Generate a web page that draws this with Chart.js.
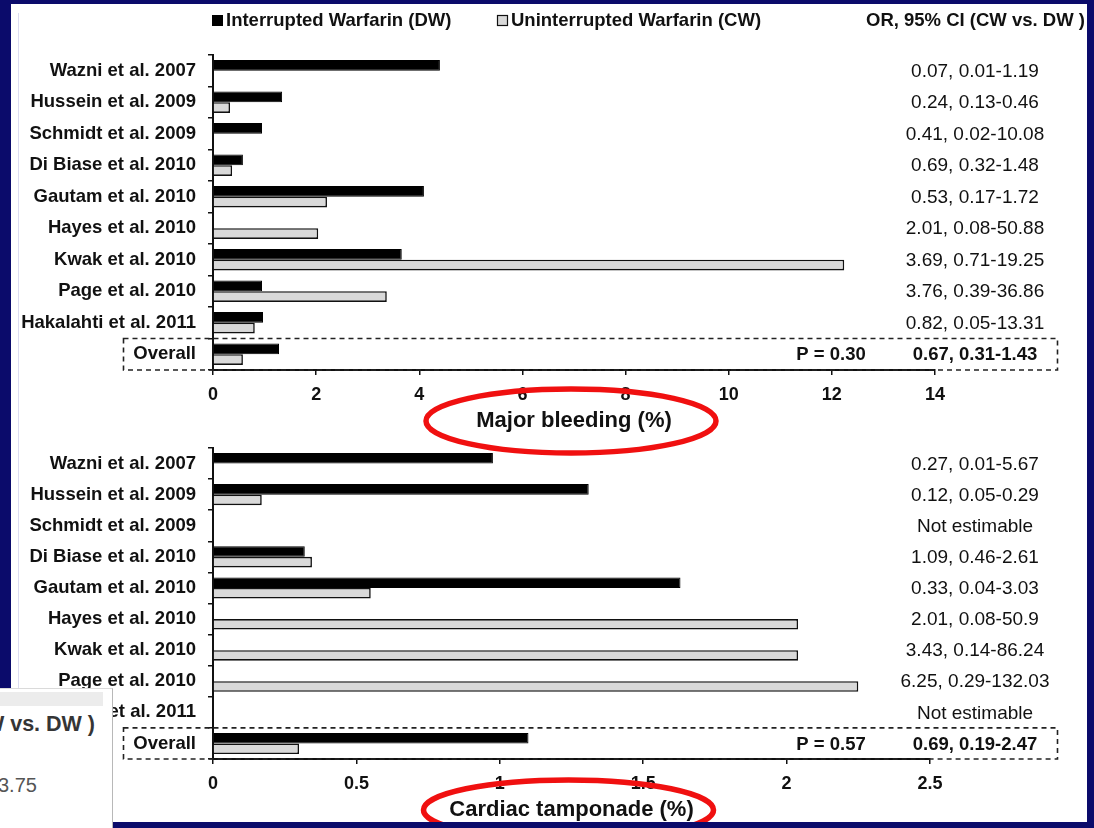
<!DOCTYPE html>
<html>
<head>
<meta charset="utf-8">
<script src="https://cdn.jsdelivr.net/npm/chart.js@4.4.1/dist/chart.umd.min.js"></script>
<style>
  html, body { margin: 0; padding: 0; }
  body { width: 1094px; height: 828px; background: #0b0b6b; position: relative; overflow: hidden;
         font-family: "Liberation Sans", Arial, sans-serif; }
  #panel { position: absolute; left: 11px; top: 4px; width: 1076px; height: 818px; background: #fff; }
  #rule { position: absolute; left: 18px; top: 13px; width: 1px; height: 675px; background: #dcdcf0; }
  canvas { position: absolute; left: 0; top: 0; }
  #rightBand { position: absolute; left: 1087px; top: 0; width: 7px; height: 828px; background: #0b0b6b; z-index: 5; }
  #bottomBand { position: absolute; left: 0; top: 822px; width: 1094px; height: 6px; background: #0b0b6b; z-index: 5; }
  #inset { position: absolute; left: 0; top: 688px; width: 112px; height: 140px; background: #fff;
           border-right: 1px solid #b8b8b8; border-top: 1px solid #dadada; overflow: hidden; z-index: 6; }
  #inset .bar { position: absolute; left: 0; top: 3px; width: 103px; height: 14px; background: #ececec; }
  #inset .head { position: absolute; right: 17px; top: 23px; white-space: nowrap; font-weight: bold;
                 font-size: 21.5px; color: #353535; }
  #inset .num { position: absolute; left: -2px; top: 85px; white-space: nowrap; font-size: 20px; color: #555; }
</style>
</head>
<body>
<div id="panel"></div>
<div id="rule"></div>
<canvas id="bleeding" width="1094" height="828"></canvas>
<canvas id="tamponade" width="1094" height="828"></canvas>
<div id="rightBand"></div>
<div id="bottomBand"></div>
<div id="inset">
  <div class="bar"></div>
  <div class="head">CI (CW vs. DW )</div>
  <div class="num">3.75</div>
</div>

<script>
// Studies (last row is the pooled estimate)
const studies = ['Wazni et al. 2007', 'Hussein et al. 2009', 'Schmidt et al. 2009', 'Di Biase et al. 2010',
                 'Gautam et al. 2010', 'Hayes et al. 2010', 'Kwak et al. 2010', 'Page et al. 2010',
                 'Hakalahti et al. 2011', 'Overall'];

const seriesNames = ['Interrupted Warfarin (DW)', 'Uninterrupted Warfarin (CW)'];
const orHeader = 'OR, 95% CI (CW vs. DW )';

// Major bleeding (%)
const bleedingDW = [4.40, 1.34, 0.95, 0.58, 4.09, null, 3.66, 0.95, 0.97, 1.28];
const bleedingCW = [null, 0.33, null, 0.37, 2.21, 2.04, 12.24, 3.37, 0.81, 0.58];
const bleedingOR = ['0.07, 0.01-1.19', '0.24, 0.13-0.46', '0.41, 0.02-10.08', '0.69, 0.32-1.48',
                    '0.53, 0.17-1.72', '2.01, 0.08-50.88', '3.69, 0.71-19.25', '3.76, 0.39-36.86',
                    '0.82, 0.05-13.31', '0.67, 0.31-1.43'];
const bleedingP = 'P = 0.30';
const bleedingTicks = { max: 14, step: 2 };

// Cardiac tamponade (%)
const tamponadeDW = [0.976, 1.31, null, 0.32, 1.63, null, null, null, null, 1.10];
const tamponadeCW = [null, 0.17, null, 0.345, 0.55, 2.04, 2.04, 2.25, null, 0.30];
const tamponadeOR = ['0.27, 0.01-5.67', '0.12, 0.05-0.29', 'Not estimable', '1.09, 0.46-2.61',
                     '0.33, 0.04-3.03', '2.01, 0.08-50.9', '3.43, 0.14-86.24', '6.25, 0.29-132.03',
                     'Not estimable', '0.69, 0.19-2.47'];
const tamponadeP = 'P = 0.57';
const tamponadeTicks = { max: 2.5, step: 0.5 };

const FONT = '"Liberation Sans", Arial, Helvetica, sans-serif';
const INK = '#111';
const W = 1094, H = 828;

// Right-hand OR column, p value, dashed box round the pooled row, ringed axis title
const annotate = {
  id: 'annotate',
  afterDraw(chart, args, opts) {
    const { ctx } = chart;
    const y = chart.scales.y;
    const x = chart.scales.x;
    const ca = chart.chartArea;
    const n = opts.or.length;
    ctx.save();
    ctx.fillStyle = INK;
    ctx.textBaseline = 'middle';
    ctx.textAlign = 'center';
    opts.or.forEach((t, i) => {
      ctx.font = (i === n - 1 ? 'bold 18.5px ' : '19px ') + FONT;
      ctx.fillText(t, 975, y.getPixelForValue(i) + 1);
    });
    const yLast = y.getPixelForValue(n - 1);
    ctx.font = 'bold 18.5px ' + FONT;
    ctx.fillText(opts.p, 831, yLast + 1);

    const half = (y.getPixelForValue(1) - y.getPixelForValue(0)) / 2;
    ctx.strokeStyle = '#222';
    ctx.lineWidth = 1.6;
    ctx.setLineDash([5, 4]);
    ctx.strokeRect(123.5, yLast - half, 934, half * 2);
    ctx.setLineDash([]);

    // red ring round the axis title
    ctx.strokeStyle = '#f01010';
    ctx.lineWidth = 5.5;
    ctx.beginPath();
    ctx.ellipse((ca.left + ca.right) / 2 - 3, x.bottom - 13, 145, opts.ry, 0, 0, Math.PI * 2);
    ctx.stroke();

    if (opts.legend) {
      const ds = chart.data.datasets;
      ctx.font = 'bold 18.5px ' + FONT;
      ctx.textAlign = 'left';
      ctx.fillStyle = ds[0].backgroundColor;
      ctx.fillRect(212, 15, 11, 11);
      ctx.fillStyle = ds[1].backgroundColor;
      ctx.fillRect(497, 15, 11, 11);
      ctx.strokeStyle = '#111';
      ctx.lineWidth = 1.2;
      ctx.strokeRect(497.5, 15.5, 10, 10);
      ctx.fillStyle = INK;
      ctx.fillText(ds[0].label, 226, 21);
      ctx.fillText(ds[1].label, 511, 21);
      ctx.fillText(orHeader, 866, 21);
    }
    ctx.restore();
  }
};

function buildChart(id, dw, cw, ticks, title, area, extra) {
  const axisH = 64;
  return new Chart(document.getElementById(id), {
    type: 'bar',
    data: {
      labels: studies,
      datasets: [
        { label: seriesNames[0], data: dw, backgroundColor: '#000', borderColor: '#000', borderWidth: 1,
          barPercentage: 1, categoryPercentage: 0.68 },
        { label: seriesNames[1], data: cw, backgroundColor: '#d9d9d9', borderColor: '#111', borderWidth: 1.6,
          barPercentage: 1, categoryPercentage: 0.68 }
      ]
    },
    options: {
      indexAxis: 'y',
      responsive: false,
      animation: false,
      layout: { padding: { top: area.top, left: 0, right: W - area.right, bottom: H - area.bottom - axisH } },
      plugins: {
        legend: { display: false },
        tooltip: { enabled: false },
        annotate: extra
      },
      scales: {
        x: {
          min: 0, max: ticks.max,
          ticks: { stepSize: ticks.step, color: INK, padding: 9,
                   font: { family: FONT, size: 18, weight: 'bold' },
                   callback: v => String(Number(v.toFixed(2))) },
          grid: { drawOnChartArea: false, tickLength: 5, color: INK, lineWidth: 1.5 },
          border: { color: INK, width: 2 },
          title: { display: true, text: title, color: INK, padding: 0,
                   font: { family: FONT, size: 22, weight: 'bold' } },
          afterFit(s) { s.height = axisH; }
        },
        y: {
          ticks: { color: INK, padding: 12, font: { family: FONT, size: 18.5, weight: 'bold' } },
          grid: { drawOnChartArea: false, tickLength: 5, color: INK, lineWidth: 1.5, offset: true },
          border: { color: INK, width: 2 },
          afterFit(s) { s.width = area.left; }
        }
      }
    },
    plugins: [annotate]
  });
}

buildChart('bleeding', bleedingDW, bleedingCW, bleedingTicks, 'Major bleeding (%)',
           { top: 55, bottom: 370, left: 213, right: 935 },
           { or: bleedingOR, p: bleedingP, ry: 32, legend: true });

buildChart('tamponade', tamponadeDW, tamponadeCW, tamponadeTicks, 'Cardiac tamponade (%)',
           { top: 448, bottom: 759, left: 213, right: 930 },
           { or: tamponadeOR, p: tamponadeP, ry: 30, legend: false });
</script>
</body>
</html>
